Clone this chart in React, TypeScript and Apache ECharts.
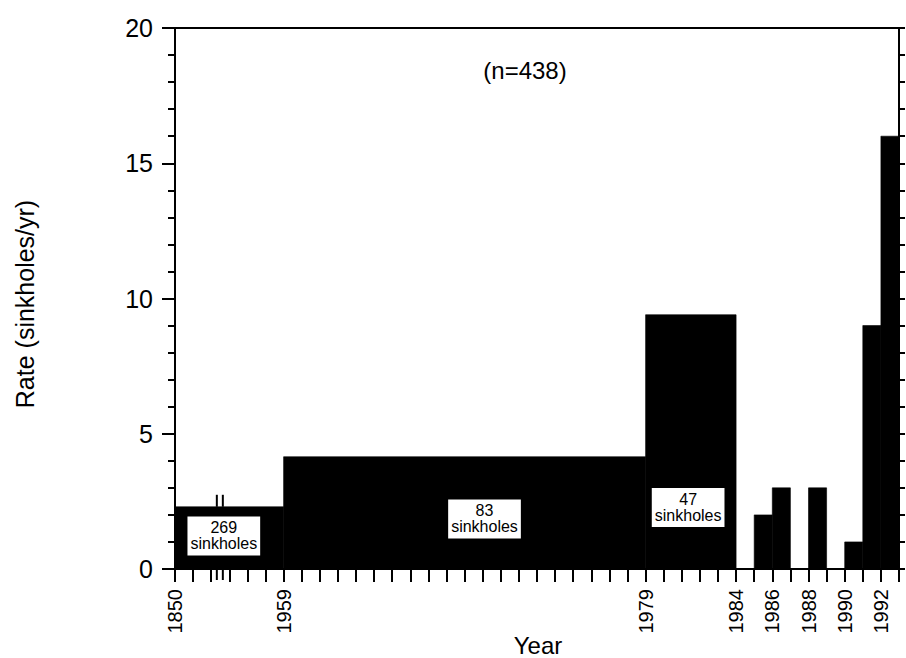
import React, { useEffect, useRef } from "react";
import * as echarts from "echarts";

// Period bins (start year inclusive, end year exclusive) and rates
const periodStart = [1850, 1959, 1979, 1985, 1986, 1988, 1990, 1991, 1992];
const periodEnd = [1959, 1979, 1984, 1986, 1987, 1989, 1991, 1992, 1993];
const rateValues = [2.3, 4.15, 9.4, 2, 3, 3, 1, 9, 16];

// Labelled x ticks
const tickYears = [1850, 1959, 1979, 1984, 1986, 1988, 1990, 1992];

// Count annotations: anchors in data space (year, rate)
const countLabels = ["269", "83", "47"];
const countAnchorYear = [1899, 1970.1, 1981.35];
const countAnchorRate = [1.22, 1.85, 2.27];

// Axis break: 1850-1959 compressed into 6 axis units
const BREAK_START = 1850;
const BREAK_END = 1959;
const COMPRESSED_UNITS = 6;
const BREAK_MARK_YEAR = 1895;

const yearToX = (y: number) =>
  y >= BREAK_END
    ? y
    : BREAK_END - ((BREAK_END - y) * COMPRESSED_UNITS) / (BREAK_END - BREAK_START);

const X_MIN = yearToX(BREAK_START);
const X_MAX = 1993;

const FONT = "Liberation Sans, Arial, Helvetica, sans-serif";

export default function App() {
  const ref = useRef<HTMLDivElement>(null);
  useEffect(() => {
    if (!ref.current) return;
    const chart = echarts.init(ref.current, undefined, { renderer: "svg" });
    const labelMap: Record<string, string> = {};
    tickYears.forEach((y) => {
      labelMap[String(Math.round(yearToX(y)))] = String(y);
    });

    const barData = periodStart.map((s, i) => [yearToX(s), yearToX(periodEnd[i]), rateValues[i]]);
    const annData = countLabels.map((c, i) => [yearToX(countAnchorYear[i]), countAnchorRate[i], c]);

    chart.setOption({
      animation: false,
      backgroundColor: "#fff",
      textStyle: { fontFamily: FONT, color: "#000" },
      grid: {
        left: 175,
        right: 7,
        top: 28,
        bottom: 89,
        containLabel: false,
        outerBoundsMode: "none",
        show: true,
        borderColor: "#000",
        borderWidth: 2,
        backgroundColor: "transparent",
      },
      graphic: [
        {
          type: "text",
          x: 525,
          y: 70,
          style: {
            text: "(n=438)",
            font: `24px ${FONT}`,
            fill: "#000",
            textAlign: "center",
            textVerticalAlign: "middle",
          },
        },
        {
          type: "text",
          x: 538,
          y: 645,
          style: {
            text: "Year",
            font: `24px ${FONT}`,
            fill: "#000",
            textAlign: "center",
            textVerticalAlign: "middle",
          },
        },
        {
          type: "text",
          x: 25,
          y: 304,
          rotation: Math.PI / 2,
          style: {
            text: "Rate (sinkholes/yr)",
            font: `25px ${FONT}`,
            fill: "#000",
            textAlign: "center",
            textVerticalAlign: "middle",
          },
        },
      ],
      xAxis: [
        {
          type: "value",
          min: X_MIN,
          max: X_MAX,
          interval: 1,
          position: "bottom",
          axisLine: { show: true, onZero: false, lineStyle: { color: "#000", width: 2 } },
          axisTick: { show: true, length: 13, lineStyle: { color: "#000", width: 2 } },
          axisLabel: {
            rotate: 90,
            margin: 20,
            fontSize: 20,
            color: "#000",
            fontFamily: FONT,
            showMinLabel: true,
            showMaxLabel: true,
            formatter: (v: number) => labelMap[String(Math.round(v))] || "",
          },
          splitLine: { show: false },
        },
      ],
      yAxis: [
        {
          type: "value",
          min: 0,
          max: 20,
          interval: 5,
          position: "left",
          axisLine: { show: true, lineStyle: { color: "#000", width: 2 } },
          axisTick: { show: true, length: 13, lineStyle: { color: "#000", width: 2 } },
          minorTick: { show: true, splitNumber: 5, length: 7, lineStyle: { color: "#000", width: 2 } },
          axisLabel: { fontSize: 25, margin: 22, color: "#000", fontFamily: FONT },
          splitLine: { show: false },
        },
        {
          type: "value",
          min: 0,
          max: 20,
          interval: 1,
          position: "right",
          axisLine: { show: true, lineStyle: { color: "#000", width: 2 } },
          axisTick: { show: true, length: 6, lineStyle: { color: "#000", width: 2 } },
          axisLabel: { show: false },
          splitLine: { show: false },
        },
      ],
      series: [
        {
          type: "custom",
          xAxisIndex: 0,
          yAxisIndex: 0,
          encode: { x: [0, 1], y: 2 },
          data: barData,
          renderItem: (params: any, api: any) => {
            const p0 = api.coord([api.value(0), 0]);
            const p1 = api.coord([api.value(1), api.value(2)]);
            return {
              type: "rect",
              shape: { x: p0[0], y: p1[1], width: p1[0] - p0[0], height: p0[1] - p1[1] },
              style: { fill: "#000", stroke: "#000", lineWidth: 0.6 },
            };
          },
          z: 2,
        },
        {
          type: "custom",
          xAxisIndex: 0,
          yAxisIndex: 0,
          encode: { x: 0, y: 1 },
          data: [[yearToX(BREAK_MARK_YEAR), rateValues[0]]],
          renderItem: (params: any, api: any) => {
            const top = api.coord([api.value(0), api.value(1)]);
            const base = api.coord([api.value(0), 0]);
            const cx = top[0];
            const children: any[] = [];
            [-3, 3].forEach((dx) => {
              children.push({
                type: "line",
                shape: { x1: cx + dx, y1: top[1] - 12, x2: cx + dx, y2: top[1] },
                style: { stroke: "#000", lineWidth: 2 },
              });
              children.push({
                type: "line",
                shape: { x1: cx + dx, y1: base[1], x2: cx + dx, y2: base[1] + 11 },
                style: { stroke: "#000", lineWidth: 2 },
              });
            });
            return { type: "group", children };
          },
          z: 3,
        },
        {
          type: "custom",
          xAxisIndex: 0,
          yAxisIndex: 0,
          encode: { x: 0, y: 1 },
          data: annData,
          renderItem: (params: any, api: any) => {
            const p = api.coord([api.value(0), api.value(1)]);
            const count = annData[params.dataIndex][2];
            return {
              type: "text",
              x: p[0],
              y: p[1],
              style: {
                text: `${count}\nsinkholes`,
                fill: "#000",
                font: `16px ${FONT}`,
                lineHeight: 16,
                align: "center",
                verticalAlign: "middle",
                backgroundColor: "#fff",
                padding: [4, 3, 3, 3],
              },
            };
          },
          z: 5,
        },
      ],
    });
    return () => chart.dispose();
  }, []);
  return (
    <div
      ref={ref}
      style={{ width: 906, height: 658, position: "absolute", left: 0, top: 0 }}
    />
  );
}
